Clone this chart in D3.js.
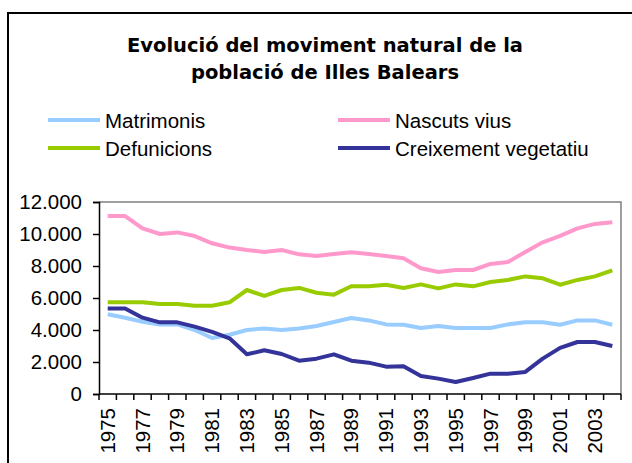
<!DOCTYPE html>
<html>
<head>
<meta charset="utf-8">
<script src="https://cdn.jsdelivr.net/npm/d3@7"></script>
<style>
  html, body { margin: 0; padding: 0; background: #fff; }
  svg { display: block; }
</style>
</head>
<body>
<svg id="chart" width="632" height="463"></svg>
<script>
const years = d3.range(1975, 2005).map(String);
const matrimonis = [4980,4770,4520,4350,4350,4000,3500,3700,4000,4100,4000,4100,4250,4500,4750,4600,4350,4330,4120,4250,4120,4120,4120,4350,4480,4480,4330,4600,4600,4330];
const nascutsVius = [11120,11120,10350,10000,10100,9870,9420,9150,9000,8880,9000,8730,8630,8750,8860,8750,8630,8480,7860,7630,7750,7750,8130,8250,8880,9480,9880,10350,10630,10730];
const defuncions = [5730,5730,5730,5630,5630,5520,5520,5730,6500,6130,6500,6630,6330,6210,6730,6730,6830,6630,6850,6600,6850,6730,7000,7130,7350,7230,6830,7130,7350,7730];
const creixement = [5350,5350,4770,4480,4480,4210,3880,3480,2480,2730,2500,2080,2210,2480,2080,1960,1710,1730,1130,960,750,1000,1270,1270,1380,2210,2880,3250,3250,3000];
const yTicks = [0,2000,4000,6000,8000,10000,12000];
const titleLines = ["Evolució del moviment natural de la", "població de Illes Balears"];

const series = [
  { name: "Matrimonis", values: matrimonis, color: "#99ccff" },
  { name: "Nascuts vius", values: nascutsVius, color: "#ff99cc" },
  { name: "Defunicions", values: defuncions, color: "#99cc00" },
  { name: "Creixement vegetatiu", values: creixement, color: "#333399" }
];

const svg = d3.select("#chart");
const FONT = "'Liberation Sans', Arial, sans-serif";

// outer chart border (extends beyond right/bottom edges)
svg.append("rect").attr("x", 8).attr("y", 13).attr("width", 700).attr("height", 600)
  .attr("fill", "#fff").attr("stroke", "#000").attr("stroke-width", 2);

// title
svg.append("g").selectAll("text").data(titleLines).join("text")
  .attr("x", 325).attr("y", (d, i) => 52 + i * 27)
  .attr("text-anchor", "middle")
  .attr("font-family", "'DejaVu Sans', Verdana, sans-serif")
  .attr("font-weight", "bold").attr("font-size", 19.5)
  .attr("fill", "#000").text(d => d);

// legend
const legendPos = [[48, 120], [338, 120], [48, 148], [338, 148]];
const lg = svg.append("g").selectAll("g").data(series).join("g")
  .attr("transform", (d, i) => `translate(${legendPos[i][0]},${legendPos[i][1]})`);
lg.append("line").attr("x1", 0).attr("x2", 52).attr("y1", 0).attr("y2", 0)
  .attr("stroke", d => d.color).attr("stroke-width", 4);
lg.append("text").attr("x", 57).attr("y", 8)
  .attr("font-family", FONT).attr("font-size", 20.5).attr("fill", "#000")
  .text(d => d.name);

// scales
const x = d3.scaleBand().domain(years).range([99, 621]).padding(0);
const y = d3.scaleLinear().domain([0, 12000]).range([394, 202]);
const fmt = d3.formatLocale({ decimal: ",", thousands: ".", grouping: [3], currency: ["", ""] }).format(",d");

// plot frame (gray top/right)
svg.append("path")
  .attr("d", `M${x.range()[0]},${y(12000)}H${x.range()[1]}V${y(0)}`)
  .attr("fill", "none").attr("stroke", "#808080").attr("stroke-width", 1.5);

// y axis
const yAxis = svg.append("g").attr("transform", `translate(${x.range()[0]},0)`)
  .call(d3.axisLeft(y).tickValues(yTicks).tickFormat(fmt).tickSize(6).tickPadding(11));
yAxis.select(".domain").attr("stroke", "#000").attr("stroke-width", 1.5);
yAxis.selectAll(".tick line").attr("stroke", "#000").attr("stroke-width", 1.5);
yAxis.selectAll("text").attr("font-family", FONT).attr("font-size", 20.5).attr("fill", "#000");

// x axis
const xAxisG = svg.append("g").attr("transform", `translate(0,${y(0)})`);
xAxisG.append("line").attr("x1", x.range()[0]).attr("x2", x.range()[1])
  .attr("stroke", "#000").attr("stroke-width", 1.5);
const boundaries = years.map(d => x(d)).concat([x.range()[1]]);
xAxisG.selectAll("line.tk").data(boundaries).join("line").attr("class", "tk")
  .attr("x1", d => d).attr("x2", d => d).attr("y1", 0).attr("y2", 6)
  .attr("stroke", "#000").attr("stroke-width", 1.5);
xAxisG.selectAll("text").data(years.filter((d, i) => i % 2 === 0)).join("text")
  .attr("transform", d => `translate(${x(d) + x.bandwidth() / 2},14) rotate(-90)`)
  .attr("text-anchor", "end").attr("dy", "0.35em")
  .attr("font-family", FONT).attr("font-size", 20.5).attr("fill", "#000")
  .text(d => d);

// lines
const line = d3.line()
  .x((d, i) => x(years[i]) + x.bandwidth() / 2)
  .y(d => y(d));
svg.append("g").selectAll("path").data(series).join("path")
  .attr("d", d => line(d.values))
  .attr("fill", "none").attr("stroke", d => d.color)
  .attr("stroke-width", 4).attr("stroke-linejoin", "round").attr("stroke-linecap", "butt");
</script>
</body>
</html>
